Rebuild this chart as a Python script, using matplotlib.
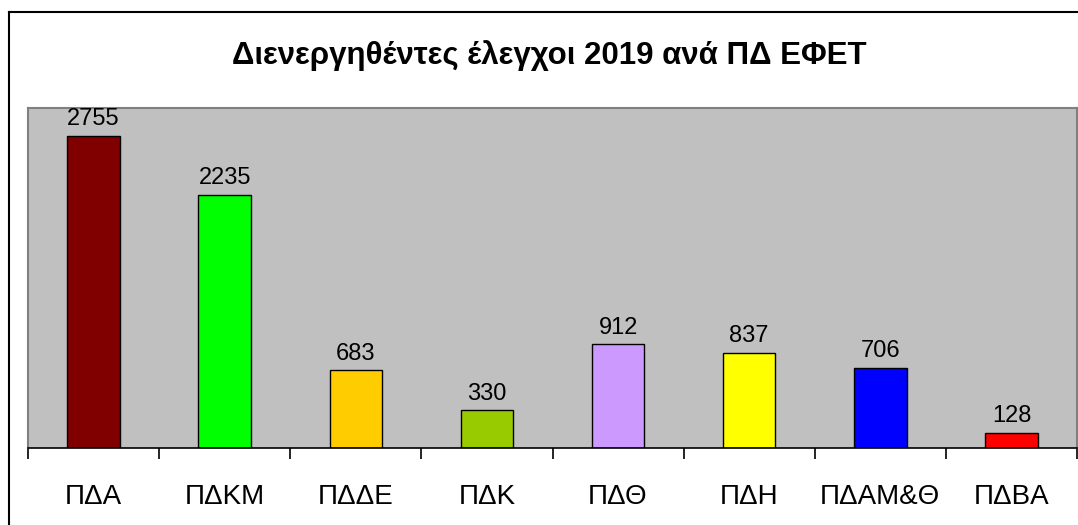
import numpy as np
import matplotlib
matplotlib.use("Agg")
import matplotlib.pyplot as plt
from matplotlib.lines import Line2D

plt.rcParams["font.family"] = ["Liberation Sans", "DejaVu Sans"]

# ---- data ----
categories = ["ΠΔΑ", "ΠΔΚΜ", "ΠΔΔΕ", "ΠΔΚ", "ΠΔΘ", "ΠΔΗ", "ΠΔΑΜ&Θ", "ΠΔΒΑ"]
values = [2755, 2235, 683, 330, 912, 837, 706, 128]
colors = ["#800000", "#00FF00", "#FFCC00", "#99CC00",
          "#CC99FF", "#FFFF00", "#0000FF", "#FF0000"]
title = "Διενεργηθέντες έλεγχοι 2019 ανά ΠΔ ΕΦΕΤ"

W, H = 1078, 525
fig = plt.figure(figsize=(W / 100, H / 100), dpi=100)
fig.patch.set_facecolor("white")

# outer frame (right and bottom edges fall outside the image)
fig.add_artist(Line2D([9 / W, 9 / W], [0, 1 - 12 / H], color="black",
                      lw=1.5, transform=fig.transFigure))
fig.add_artist(Line2D([9 / W, 1], [1 - 12 / H, 1 - 12 / H], color="black",
                      lw=1.5, transform=fig.transFigure))

ax = fig.add_axes([28 / W, (H - 447.5) / H, (1077 - 28) / W, (447.5 - 108) / H])
ax.set_facecolor("#C0C0C0")

x = np.arange(len(categories))
bars = ax.bar(x, values, width=0.4, color=colors, edgecolor="black", lw=1.0)

for xi, v in zip(x, values):
    ax.annotate(str(v), (xi, v), xytext=(0, 4), textcoords="offset points",
                ha="center", va="bottom", fontsize=17)

ax.set_xlim(-0.5, len(categories) - 0.5)
ax.set_ylim(0, 3000)
ax.set_yticks([])

ax.set_xticks(x)
ax.set_xticklabels(categories, fontsize=20)
ax.tick_params(axis="x", which="major", length=0, pad=26)
ax.set_xticks(np.arange(len(categories) + 1) - 0.5, minor=True)
ax.tick_params(axis="x", which="minor", length=8, width=1.2, color="black",
               direction="out")

for side in ["left", "right", "top"]:
    ax.spines[side].set_color("#808080")
    ax.spines[side].set_linewidth(1.5)
ax.spines["bottom"].set_color("black")
ax.spines["bottom"].set_linewidth(1.2)

fig.text(549 / W, 1 - 56 / H, title, ha="center", va="center",
         fontsize=22.5, fontweight="bold")

fig.savefig("out.png", dpi=100)
plt.close(fig)
